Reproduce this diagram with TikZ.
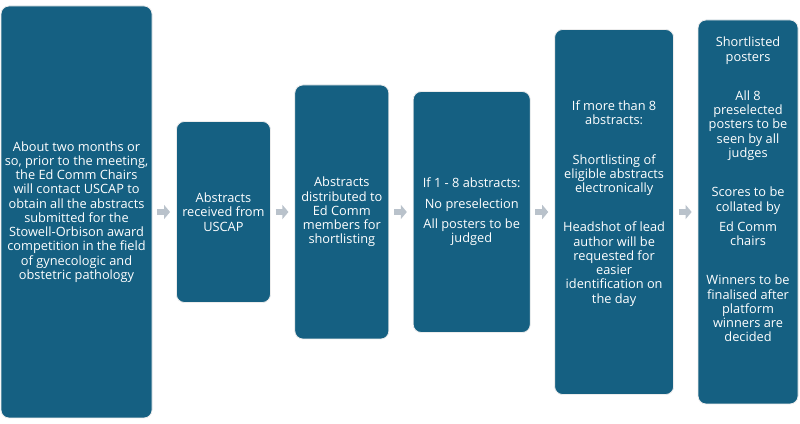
\documentclass[tikz,border=0pt]{standalone}
\usepackage{fontspec}
\setmainfont{Open Sans}
\usepackage{xcolor}
\usetikzlibrary{arrows.meta, positioning}
\definecolor{boxblue}{HTML}{156082}
\definecolor{arrowgray}{HTML}{B9C2CB}

\begin{document}
\begin{tikzpicture}[
    node distance=17.7pt,
    box/.style={rectangle, draw=gray!15, line width=0.6pt, rounded corners=6pt, align=center, fill=boxblue, text=white, inner sep=1pt, font=\fontsize{9.6}{10.7}\selectfont},
    arrow/.style={-{Triangle[length=4.5pt, width=10.5pt]}, line width=5pt, draw=arrowgray, shorten <=3.6pt, shorten >=4.5pt}
]
\useasboundingbox (-57.4pt,-159pt) rectangle (542.6pt,159pt);
\node[box, minimum width=113.25pt, minimum height=309pt] (contact) {About two months or\\so, prior to the meeting,\\the Ed Comm Chairs\\will contact USCAP to\\obtain all the abstracts\\submitted for the\\Stowell-Orbison award\\competition in the field\\of gynecologic and\\obstetric pathology};
\node[box, right=of contact, minimum width=70.5pt, minimum height=135.75pt] (received) {Abstracts\\received from\\USCAP};
\node[box, right=of received, minimum width=70.5pt, minimum height=190.5pt] (distributed) {Abstracts\\distributed to\\Ed Comm\\members for\\shortlisting};
\node[box, right=of distributed, minimum width=87.75pt, minimum height=180.75pt] (few) {If 1 - 8 abstracts:\\[4.5pt]No preselection\\[4.5pt]All posters to be\\judged};
\node[box, right=of few, minimum width=89.25pt, minimum height=273.75pt] (many) {If more than 8\\abstracts:\\[18.75pt]Shortlisting of\\eligible abstracts\\electronically\\[18.75pt]Headshot of lead\\author will be\\requested for\\easier\\identification on\\the day\\[4.3pt]\mbox{}};
\node[box, right=of many, minimum width=75pt, minimum height=288pt] (judging) {Shortlisted\\posters\\[18.75pt]All 8\\preselected\\posters to be\\seen by all\\judges\\[18.75pt]Scores to be\\collated by\\[4.5pt]Ed Comm\\chairs\\[18.75pt]Winners to be\\finalised after\\platform\\winners are\\decided\\[23pt]\mbox{}};
\draw[arrow] (contact) -- (received);
\draw[arrow] (received) -- (distributed);
\draw[arrow] (distributed) -- (few);
\draw[arrow] (few) -- (many);
\draw[arrow] (many) -- (judging);
\end{tikzpicture}
\end{document}
